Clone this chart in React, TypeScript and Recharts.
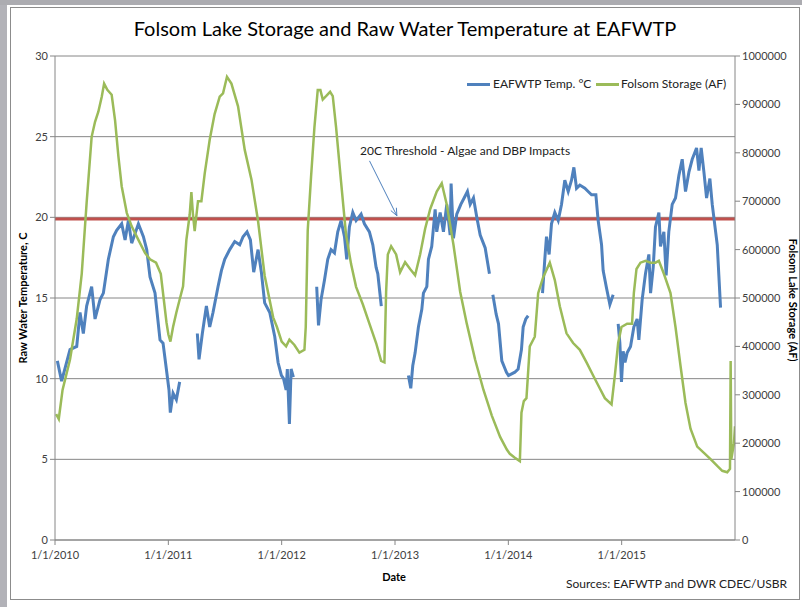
import React from "react";
import { LineChart, Line, XAxis, YAxis, CartesianGrid, ReferenceLine } from "recharts";

// months since 1/1/2010; null = gap in the record
const tempMonths = [
  0.25, 0.7, 1.59, 2.3, 2.65, 3.0, 3.35, 3.88, 4.24, 4.77, 5.12, 5.65, 6.18, 6.53, 7.06, 7.42, 7.77, 8.12, 8.83, 9.36,
  9.71, 10.06, 10.59, 11.12, 11.44, 11.79, 12.07, 12.21, 12.5, 12.85, 13.2, 14.0,
  15.07, 15.25, 15.6, 16.03, 16.38, 16.73, 17.26, 17.62, 17.97, 18.5, 19.03, 19.56, 19.91, 20.33, 20.69, 21.04, 21.5,
  21.85, 22.2, 22.74, 23.27, 23.62, 23.97, 24.2, 24.47, 24.6, 24.82, 25.0, 25.24, 26.0,
  27.71, 27.9, 28.17, 28.53, 28.88, 29.23, 29.59, 29.94, 30.29, 30.65, 30.89, 31.17, 31.53, 31.88, 32.41, 32.76, 33.29,
  33.65, 34.0, 34.18, 34.42, 34.55, 35.0,
  37.42, 37.67, 37.88, 38.13, 38.48, 38.84, 39.01, 39.37, 39.54, 39.89, 40.25, 40.42, 40.78, 41.13, 41.48, 41.84, 41.94,
  42.19, 42.54, 42.97, 43.32, 43.67, 43.96, 44.31, 44.66, 45.02, 45.55, 46.0, 46.2,
  46.36, 46.71, 46.96, 47.31, 47.66, 47.8, 48.02, 48.35, 48.69, 49.04, 49.39, 49.57, 49.85, 50.1, 51.0,
  51.62, 51.86, 52.04, 52.32, 52.57, 52.92, 53.28, 53.63, 53.98, 54.34, 54.69, 54.94, 55.22, 55.57, 56.1, 56.45, 56.81,
  57.27, 57.51, 57.87, 58.04, 58.4, 58.75, 59.1, 59.35,
  59.63, 59.81, 59.98, 60.16, 60.35, 60.58, 60.94, 61.29, 61.64, 61.82, 62.17, 62.52, 62.88, 63.06, 63.34, 63.58, 63.94,
  64.11, 64.47, 64.71, 64.99, 65.35, 65.7, 66.06, 66.41, 66.76, 67.12, 67.47, 67.93, 68.18, 68.42, 68.71, 68.99, 69.34,
  69.59, 69.95, 70.12, 70.29, 70.47,
];
const tempValues = [
  11.1, 9.85, 11.8, 12.0, 14.1, 12.8, 14.5, 15.7, 13.7, 14.9, 15.3, 17.4, 18.8, 19.2, 19.6, 18.6, 19.8, 18.4, 19.6, 18.8,
  18.0, 16.3, 15.3, 12.4, 12.2, 10.6, 9.3, 7.9, 9.1, 8.7, 9.8, null,
  12.8, 11.2, 12.8, 14.5, 13.2, 14.1, 15.7, 16.7, 17.4, 18.0, 18.5, 18.3, 18.8, 19.1, 18.6, 16.6, 18.0,
  16.6, 14.7, 14.1, 12.6, 11.0, 10.2, 10.0, 9.3, 10.6, 7.2, 10.6, 10.1, null,
  15.7, 13.3, 14.9, 16.1, 17.4, 18.0, 17.8, 19.1, 19.8, 18.8, 17.4, 19.4, 20.3, 19.8, 20.2, 19.6, 19.1,
  18.3, 16.9, 16.5, 15.2, 14.5, null,
  10.2, 9.4, 10.8, 11.6, 13.2, 14.3, 15.3, 15.7, 17.4, 18.2, 20.5, 19.1, 20.3, 19.1, 20.8, 18.9, 22.1,
  18.7, 20.2, 20.8, 21.2, 21.6, 20.8, 21.2, 20.0, 18.9, 18.1, 16.5, null,
  15.2, 14.0, 13.4, 11.1, 10.6, 10.4, 10.2, 10.3, 10.4, 10.6, 11.8, 13.2, 13.7, 13.9, null,
  15.3, 17.4, 18.8, 17.7, 19.6, 20.3, 19.8, 20.8, 22.3, 21.6, 22.3, 23.1, 21.8, 22.0, 21.8, 21.6, 21.4,
  21.4, 19.8, 18.3, 16.7, 15.6, 14.6, 15.2, null,
  13.4, 12.2, 9.8, 11.7, 11.0, 11.6, 12.0, 13.2, 13.7, 12.4, 14.9, 16.5, 17.7, 15.3, 16.9, 19.4, 20.3,
  18.2, 19.1, 16.4, 19.1, 20.8, 21.2, 22.6, 23.6, 21.6, 22.8, 23.6, 24.3, 22.9, 24.3, 22.8, 21.2, 22.4,
  20.8, 19.1, 18.3, 16.4, 14.4,
];

const storageMonths = [
  0.12, 0.4, 0.8, 1.59, 2.3, 2.83, 3.35, 3.88, 4.24, 4.59, 4.95, 5.2, 5.54, 6.0, 6.36, 6.71, 7.06, 7.6, 8.12, 8.83,
  9.54, 10.06, 10.7, 11.2, 11.5, 11.8, 12.0, 12.22, 12.5, 12.85, 13.2, 13.56, 13.91, 14.26, 14.44, 14.61, 14.79, 15.14,
  15.5, 15.85, 16.38, 16.9, 17.44, 17.79, 18.21, 18.68, 19.38, 20.09, 20.8, 21.5, 22.2, 23.1, 23.5, 24.0, 24.47, 24.82,
  25.35, 25.88, 26.41, 26.55, 26.76, 27.11, 27.47, 27.82, 28.1, 28.35, 28.7, 29.13, 29.41, 29.76, 30.29, 30.82, 31.35,
  31.88, 32.59, 33.29, 34.0, 34.53, 34.88, 35.06, 35.24, 35.59, 36.12, 36.54, 37.07, 37.6, 38.13, 38.66, 39.19, 39.73,
  40.42, 40.95, 41.48, 42.19, 42.9, 43.6, 44.48, 45.37, 46.25, 47.13, 47.84, 48.16, 48.69, 49.22, 49.39, 49.64, 49.92,
  50.27, 50.8, 51.16, 51.69, 52.39, 52.92, 53.45, 54.16, 54.86, 55.57, 56.28, 56.98, 57.69, 58.22, 58.93, 59.28, 59.63,
  59.98, 60.58, 61.1, 61.29, 61.57, 61.99, 62.52, 63.06, 63.58, 63.94, 64.47, 65.17, 65.7, 66.23, 66.76, 67.29, 68.0,
  68.71, 69.41, 70.12, 70.65, 71.18, 71.47, 71.54, 71.61, 71.89, 72.0,
];
const storageAF = [
  260000, 250000, 310000, 373000, 457000, 550000, 697000, 833000, 864000, 885000, 916000, 943000, 930000, 920000, 867000,
  793000, 731000, 676000, 648000, 620000, 593000, 580000, 573000, 550000, 500000, 450000, 425000, 410000, 440000, 470000,
  497000, 524000, 620000, 672000, 719000, 672000, 638000, 700000, 700000, 757000, 827000, 880000, 916000, 923000, 957000,
  943000, 896000, 806000, 745000, 659000, 546000, 460000, 440000, 410000, 400000, 414000, 403000, 387000, 393000, 440000,
  640000, 750000, 853000, 930000, 930000, 910000, 917000, 926000, 917000, 853000, 740000, 630000, 570000, 523000, 487000,
  447000, 407000, 370000, 367000, 513000, 590000, 607000, 590000, 553000, 574000, 560000, 547000, 590000, 643000, 684000,
  720000, 737000, 693000, 610000, 513000, 447000, 373000, 310000, 257000, 213000, 187000, 178000, 170000, 163000, 263000,
  287000, 293000, 400000, 420000, 510000, 543000, 573000, 537000, 483000, 427000, 407000, 393000, 367000, 340000, 313000,
  293000, 280000, 340000, 407000, 440000, 447000, 447000, 510000, 560000, 573000, 577000, 573000, 573000, 577000, 550000,
  510000, 440000, 360000, 283000, 230000, 193000, 180000, 167000, 153000, 143000, 140000, 147000, 370000, 167000, 200000,
  235000,
];

const thresholdMonths = [0, 72];
const thresholdValues = [19.9, 19.9];

const yearTicks = [0, 12, 24, 36, 48, 60];
const tempTicks = [0, 5, 10, 15, 20, 25, 30];
const storageTicks = [0, 100000, 200000, 300000, 400000, 500000, 600000, 700000, 800000, 900000, 1000000];

const tempData = tempMonths.map((m, i) => ({ m, temp: tempValues[i] }));
const storageData = storageMonths.map((m, i) => ({ m, storage: storageAF[i] }));
const thresholdData = thresholdMonths.map((m, i) => ({ m, limit: thresholdValues[i] }));

const FONT = "Lato, 'Open Sans', sans-serif";
const BLUE = "#4F81BD";
const GREEN = "#9BBB59";
const RED = "#C0504D";
const AXIS = "#868686";
const tick = { fontSize: 11, fill: "#404040", fontFamily: FONT };

function ArrowShape(props: any) {
  const { x1, y1, x2, y2 } = props;
  if (x1 == null) return null;
  const ang = Math.atan2(y2 - y1, x2 - x1);
  const L = 8;
  const a1 = ang + Math.PI - 0.4;
  const a2 = ang + Math.PI + 0.4;
  return (
    <g>
      <line x1={x1} y1={y1} x2={x2} y2={y2} stroke={BLUE} strokeWidth={1} />
      <polyline
        points={`${x2 + L * Math.cos(a1)},${y2 + L * Math.sin(a1)} ${x2},${y2} ${x2 + L * Math.cos(a2)},${y2 + L * Math.sin(a2)}`}
        fill="none"
        stroke={BLUE}
        strokeWidth={1}
      />
    </g>
  );
}

export default function App() {
  const abs = (s: React.CSSProperties): React.CSSProperties => ({ position: "absolute", fontFamily: FONT, whiteSpace: "nowrap", ...s });
  return (
    <div style={{ position: "absolute", left: 0, top: 0, width: 802, height: 607, background: "#fff", overflow: "hidden" }}>
      <div style={{ position: "absolute", left: 0, top: 0, width: 7, height: 607, background: "#b2b2b8" }} />
      <div style={{ position: "absolute", left: 0, top: 0, width: 802, height: 5, background: "#acacb1" }} />
      <div style={{ position: "absolute", left: 10, top: 7, width: 790, height: 593, border: "1px solid #8c8c8c", boxSizing: "border-box" }} />

      <div style={abs({ left: 10, width: 790, top: 16, textAlign: "center", fontSize: 20, color: "#000" })}>
        Folsom Lake Storage and Raw Water Temperature at EAFWTP
      </div>

      <div style={{ position: "absolute", left: 0, top: 0 }}>
        <LineChart width={802} height={607} margin={{ top: 56, right: 0, bottom: 37, left: 0 }}>
          <CartesianGrid yAxisId="left" vertical={false} stroke={AXIS} strokeWidth={1} />
          <XAxis
            dataKey="m"
            type="number"
            domain={[0, 72]}
            ticks={yearTicks}
            tickFormatter={(v: number) => `1/1/${2010 + v / 12}`}
            tick={tick}
            tickSize={5}
            tickMargin={6}
            axisLine={{ stroke: AXIS }}
            tickLine={{ stroke: AXIS }}
            height={30}
            allowDataOverflow
          />
          <YAxis
            yAxisId="left"
            domain={[0, 30]}
            ticks={tempTicks}
            tick={tick}
            tickSize={5}
            width={55}
            axisLine={{ stroke: AXIS }}
            tickLine={{ stroke: AXIS }}
          />
          <YAxis
            yAxisId="right"
            orientation="right"
            domain={[0, 1000000]}
            ticks={storageTicks}
            tickFormatter={(v: number) => String(v)}
            tick={tick}
            tickSize={5}
            width={67}
            axisLine={{ stroke: AXIS }}
            tickLine={{ stroke: AXIS }}
          />
          <Line yAxisId="left" data={thresholdData} dataKey="limit" stroke={RED} strokeWidth={3} dot={false} isAnimationActive={false} />
          <Line yAxisId="left" data={tempData} dataKey="temp" stroke={BLUE} strokeWidth={3} strokeLinejoin="miter" dot={false} connectNulls={false} isAnimationActive={false} />
          <Line yAxisId="right" data={storageData} dataKey="storage" stroke={GREEN} strokeWidth={2.5} dot={false} isAnimationActive={false} />
          <ReferenceLine
            yAxisId="left"
            segment={[{ x: 33.3, y: 23.5 }, { x: 36.2, y: 20.1 }]}
            shape={ArrowShape}
            ifOverflow="visible"
          />
        </LineChart>
      </div>

      {/* legend */}
      <div style={{ position: "absolute", left: 467, top: 83, width: 23, height: 3, background: BLUE }} />
      <div style={abs({ left: 493, top: 76, fontSize: 12, color: "#222" })}>EAFWTP Temp. °C</div>
      <div style={{ position: "absolute", left: 596, top: 83, width: 23, height: 3, background: GREEN }} />
      <div style={abs({ left: 621, top: 76, fontSize: 12, color: "#222" })}>Folsom Storage (AF)</div>

      <div style={abs({ left: 360, top: 143, fontSize: 12, color: "#222" })}>20C Threshold - Algae and DBP Impacts</div>

      <div style={abs({ left: 22, top: 298, fontSize: 11, fontWeight: 700, color: "#000", transform: "translate(-50%,-50%) rotate(-90deg)" })}>
        Raw Water Temperature, C
      </div>
      <div style={abs({ left: 793, top: 300, fontSize: 11, fontWeight: 700, color: "#000", transform: "translate(-50%,-50%) rotate(90deg)" })}>
        Folsom Lake Storage (AF)
      </div>
      <div style={abs({ left: 394, top: 576, fontSize: 11, fontWeight: 700, color: "#000", transform: "translate(-50%,-50%)" })}>Date</div>
      <div style={abs({ left: 566, top: 576, fontSize: 12, color: "#222" })}>Sources: EAFWTP and DWR CDEC/USBR</div>
    </div>
  );
}
